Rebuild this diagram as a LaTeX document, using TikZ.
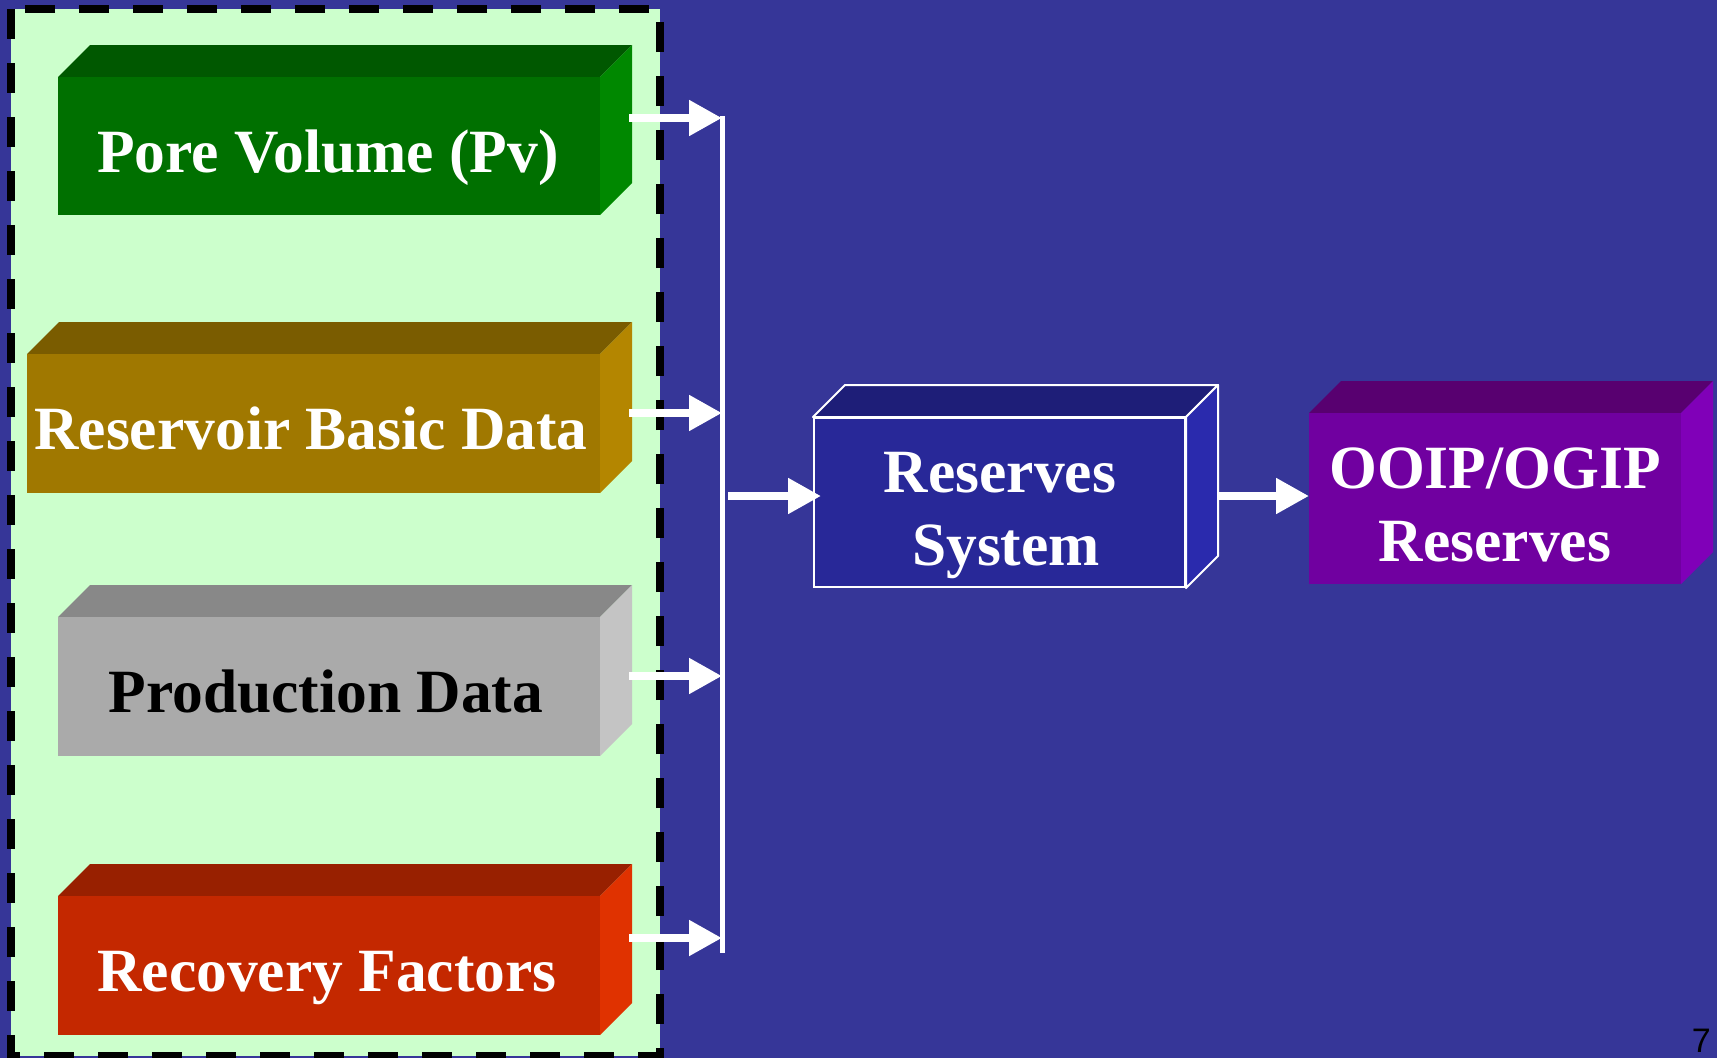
\documentclass[tikz,border=0pt]{standalone}
\usepackage{fontspec}
\setmainfont{Liberation Serif}
\newfontfamily\numfont{Liberation Sans}
\usetikzlibrary{arrows.meta,fit}
\definecolor{bgblue}{RGB}{54,54,152}
\definecolor{panelgreen}{RGB}{204,255,204}
\definecolor{pvF}{RGB}{0,112,0}
\definecolor{pvT}{RGB}{0,88,0}
\definecolor{pvS}{RGB}{0,136,0}
\definecolor{rbF}{RGB}{160,120,0}
\definecolor{rbT}{RGB}{122,92,0}
\definecolor{rbS}{RGB}{180,134,0}
\definecolor{pdF}{RGB}{170,170,170}
\definecolor{pdT}{RGB}{136,136,136}
\definecolor{pdS}{RGB}{196,196,196}
\definecolor{rfF}{RGB}{196,40,0}
\definecolor{rfT}{RGB}{152,32,0}
\definecolor{rfS}{RGB}{224,50,0}
\definecolor{rsF}{RGB}{40,40,152}
\definecolor{rsT}{RGB}{30,30,120}
\definecolor{rsS}{RGB}{42,42,173}
\definecolor{ooF}{RGB}{112,0,160}
\definecolor{ooT}{RGB}{88,0,112}
\definecolor{ooS}{RGB}{128,0,184}
\tikzset{
  lbl/.style={text=white, inner sep=0, anchor=base, font=\bfseries\fontsize{61.5}{73}\selectfont},
  feed/.style={draw=white, line width=8pt, -{Triangle[length=33pt,width=34pt]}},
  bus/.style={draw=white, line width=5pt},
  panel/.style={fill=panelgreen, draw=black, line width=8pt, dash pattern=on 30pt off 24pt},
}
\newcommand\cubebox[8]{%
  \fill[#7] (#2,#3) -- ({#2+32},{#3-32}) -- ({#4+32},{#3-32}) -- (#4,#3) -- cycle;
  \fill[#8] (#4,#3) -- ({#4+32},{#3-32}) -- ({#4+32},{#5-32}) -- (#4,#5) -- cycle;
  \node[fill=#6, inner sep=0, outer sep=0, fit={(#2,#3) (#4,#5)}] (#1) {};
}
\begin{document}
\begin{tikzpicture}[x=1pt,y=-1pt]
\fill[bgblue] (0,0) rectangle (1717,1058);
\useasboundingbox (0,0) rectangle (1717,1058);
\draw[panel] (11,9) rectangle (660,1056);

\cubebox{pv}{58}{77}{600}{215}{pvF}{pvT}{pvS}
\cubebox{rb}{27}{354}{600}{493}{rbF}{rbT}{rbS}
\cubebox{pd}{58}{617}{600}{756}{pdF}{pdT}{pdS}
\cubebox{rf}{58}{896}{600}{1035}{rfF}{rfT}{rfS}
\cubebox{oo}{1309}{413}{1681}{584}{ooF}{ooT}{ooS}

% Reserves System (outlined)
\filldraw[fill=rsT, draw=white, line width=2pt, line join=round] (813,417) -- (845,385) -- (1218,385) -- (1186,417) -- cycle;
\filldraw[fill=rsS, draw=white, line width=2pt, line join=round] (1186,417) -- (1218,385) -- (1218,556) -- (1186,588) -- cycle;
\node[fill=rsF, draw=white, line width=2pt, inner sep=0, outer sep=0, fit={(814,418) (1185,587)}] (rs) {};

\node[lbl] (pvt) at (328,172) {Pore Volume (Pv)};
\node[lbl] (rbt) at (311,449) {Reservoir Basic Data};
\node[lbl, text=black] (pdt) at (326,712) {Production Data};
\node[lbl] (rft) at (327,991) {Recovery Factors};
\node[lbl] (rst1) at (1000,492) {Reserves};
\node[lbl] (rst2) at (1006,565) {System};
\node[lbl] (oot1) at (1495,488) {OOIP/OGIP};
\node[lbl] (oot2) at (1495,561) {Reserves};

\coordinate (pvo) at (629,118);
\coordinate (rbo) at (629,413);
\coordinate (pdo) at (629,676);
\coordinate (rfo) at (629,938);
\coordinate (j1) at (722,118);
\coordinate (j2) at (722,413);
\coordinate (j3) at (722,676);
\coordinate (j4) at (722,938);
\coordinate (btop) at (722,116);
\coordinate (bbot) at (722,953);
\coordinate (bout) at (728,496);
\coordinate (rsin) at (821,496);
\coordinate (rsout) at (1219,496);

\draw[bus] (btop) -- (bbot);
\draw[feed] (pvo) -- (j1);
\draw[feed] (rbo) -- (j2);
\draw[feed] (pdo) -- (j3);
\draw[feed] (rfo) -- (j4);
\draw[feed] (bout) -- (rsin);
\draw[feed] (rsout) -- (oo.west |- rsout);

\node[anchor=base east, inner sep=0, font=\numfont\fontsize{34}{40}\selectfont] (pg) at (1711,1052) {7};
\end{tikzpicture}
\end{document}
